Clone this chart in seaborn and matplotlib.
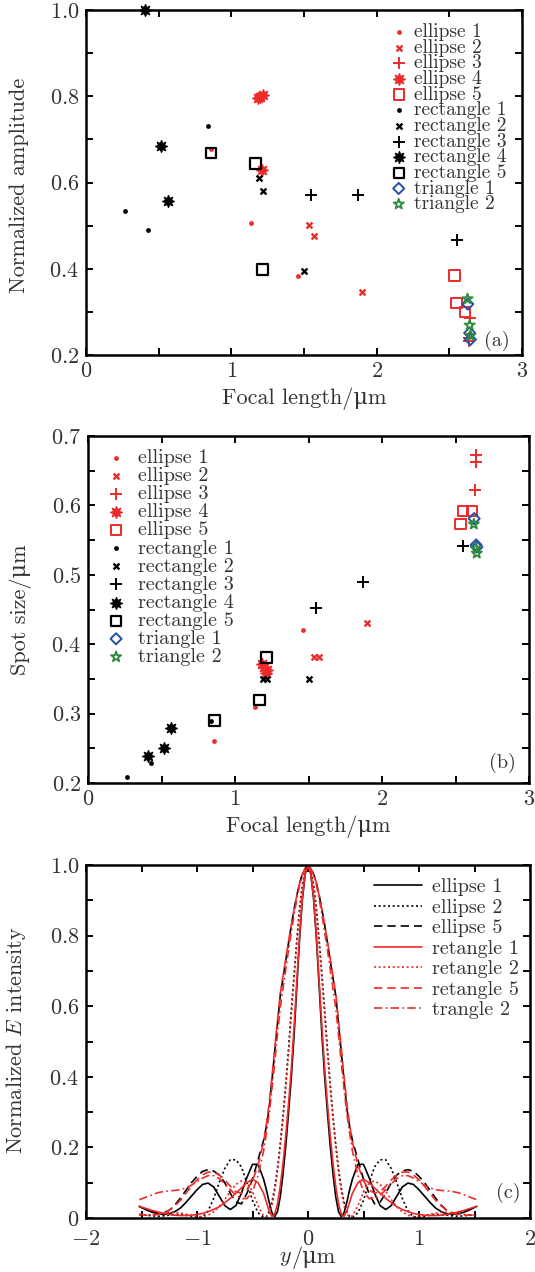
import numpy as np
import pandas as pd
import matplotlib
matplotlib.use("Agg")
import matplotlib.pyplot as plt
import seaborn as sns
from matplotlib.ticker import MultipleLocator, FuncFormatter

sns.set_theme(style="ticks")
plt.rcParams["font.family"] = ["cmr10", "DejaVu Serif"]
plt.rcParams["mathtext.fontset"] = "cm"
plt.rcParams["axes.formatter.use_mathtext"] = True
plt.rcParams["axes.unicode_minus"] = True

# ---------------- data: panels (a) and (b) ----------------
series_names = ["ellipse 1", "ellipse 2", "ellipse 3", "ellipse 4", "ellipse 5",
                "rectangle 1", "rectangle 2", "rectangle 3", "rectangle 4", "rectangle 5",
                "triangle 1", "triangle 2"]

ellipse1_focal = [0.86, 1.135, 1.46]
ellipse1_amp = [0.677, 0.507, 0.383]
ellipse1_spot = [0.26, 0.31, 0.42]

ellipse2_focal = [1.537, 1.57, 1.897]
ellipse2_amp = [0.501, 0.475, 0.346]
ellipse2_spot = [0.381, 0.381, 0.431]

ellipse3_focal = [2.64, 2.637, 2.635]
ellipse3_amp = [0.286, 0.24, 0.232]
ellipse3_spot = [0.673, 0.663, 0.622]

ellipse4_focal = [1.185, 1.2, 1.215, 1.21]
ellipse4_amp = [0.795, 0.798, 0.802, 0.63]
ellipse4_spot = [0.371, 0.367, 0.363, 0.358]

ellipse5_focal = [2.535, 2.55, 2.61]
ellipse5_amp = [0.384, 0.321, 0.300]
ellipse5_spot = [0.573, 0.592, 0.592]

rect1_focal = [0.268, 0.428, 0.838]
rect1_amp = [0.533, 0.49, 0.732]
rect1_spot = [0.208, 0.229, 0.289]

rect2_focal = [1.19, 1.215, 1.503]
rect2_amp = [0.611, 0.581, 0.395]
rect2_spot = [0.35, 0.35, 0.35]

rect3_focal = [1.55, 1.87, 2.55]
rect3_amp = [0.57, 0.57, 0.466]
rect3_spot = [0.452, 0.49, 0.541]

rect4_focal = [0.407, 0.518, 0.566]
rect4_amp = [1.0, 0.684, 0.558]
rect4_spot = [0.239, 0.25, 0.279]

rect5_focal = [0.861, 1.167, 1.215]
rect5_amp = [0.669, 0.644, 0.398]
rect5_spot = [0.29, 0.32, 0.381]

tri1_focal = [2.627, 2.64, 2.645]
tri1_amp = [0.318, 0.251, 0.236]
tri1_spot = [0.581, 0.543, 0.54]

tri2_focal = [2.625, 2.64, 2.645]
tri2_amp = [0.33, 0.269, 0.245]
tri2_spot = [0.573, 0.538, 0.531]

focal = [ellipse1_focal, ellipse2_focal, ellipse3_focal, ellipse4_focal, ellipse5_focal,
         rect1_focal, rect2_focal, rect3_focal, rect4_focal, rect5_focal, tri1_focal, tri2_focal]
amps = [ellipse1_amp, ellipse2_amp, ellipse3_amp, ellipse4_amp, ellipse5_amp,
        rect1_amp, rect2_amp, rect3_amp, rect4_amp, rect5_amp, tri1_amp, tri2_amp]
spots = [ellipse1_spot, ellipse2_spot, ellipse3_spot, ellipse4_spot, ellipse5_spot,
         rect1_spot, rect2_spot, rect3_spot, rect4_spot, rect5_spot, tri1_spot, tri2_spot]

# ---------------- data: panel (c) (half profiles, x >= 0) ----------------
y_half = [0, .025, .05, .075, .1, .125, .15, .175, .2, .225, .25, .275, .3, .325, .35, .375, .4,
          .45, .5, .55, .6, .65, .7, .75, .8, .85, .9, .95, 1.0, 1.05, 1.1, 1.15, 1.2, 1.25,
          1.3, 1.35, 1.4, 1.45, 1.52]
ellipse1_I = [1.0, .975, .905, .795, .66, .52, .40, .30, .205, .125, .06, .018, .004, .015, .045,
              .08, .11, .152, .152, .115, .07, .035, .024, .035, .062, .088, .099, .095, .08,
              .062, .044, .028, .018, .012, .01, .012, .016, .022, .033]
ellipse2_I = [1.0, .985, .945, .88, .79, .69, .59, .48, .38, .29, .21, .14, .085, .045, .018,
              .004, .002, .015, .05, .10, .145, .165, .165, .14, .10, .055, .02, .003, .002,
              .005, .008, .01, .01, .008, .006, .005, .006, .008, .01]
ellipse5_I = [1.0, .99, .975, .95, .915, .875, .83, .78, .73, .68, .63, .55, .47, .39, .31, .26,
              .22, .165, .11, .07, .04, .045, .07, .10, .122, .133, .137, .132, .118, .10, .078,
              .056, .036, .022, .015, .014, .018, .024, .032]
retangle1_I = [1.0, .975, .91, .805, .675, .545, .425, .325, .235, .155, .09, .04, .01, .005,
               .02, .045, .07, .10, .11, .10, .085, .07, .056, .043, .032, .024, .018, .013,
               .01, .008, .007, .007, .008, .01, .013, .017, .021, .026, .033]
retangle2_I = [1.0, .985, .94, .87, .78, .68, .575, .47, .37, .28, .20, .13, .075, .035, .012,
               .003, .006, .035, .075, .10, .105, .095, .075, .052, .032, .017, .008, .004,
               .004, .007, .011, .014, .016, .016, .014, .012, .01, .009, .008]
retangle5_I = [1.0, .99, .975, .95, .915, .875, .83, .785, .735, .685, .635, .56, .48, .40, .325,
               .265, .215, .15, .105, .08, .07, .075, .09, .108, .122, .13, .13, .122, .108,
               .09, .07, .05, .034, .022, .014, .01, .008, .008, .01]
trangle2_I = [1.0, .99, .972, .945, .905, .86, .81, .76, .705, .65, .595, .52, .44, .365, .295,
              .24, .19, .12, .075, .055, .055, .065, .08, .097, .112, .12, .12, .113, .103, .093,
              .085, .08, .078, .077, .075, .072, .066, .06, .052]
curve_names = ["ellipse 1", "ellipse 2", "ellipse 5", "retangle 1", "retangle 2",
               "retangle 5", "trangle 2"]
curve_vals = [ellipse1_I, ellipse2_I, ellipse5_I, retangle1_I, retangle2_I, retangle5_I,
              trangle2_I]

# ---------------- styles ----------------
RED = "#ee2b2b"
BLUE = "#2450a8"
GREEN = "#2e8b3e"
TXT = "#333333"
marker_styles = [
    dict(marker="o", s=12, color=RED, edgecolor=RED, linewidth=0),
    dict(marker="x", s=18, color=RED, linewidth=1.7),
    dict(marker="+", s=75, color=RED, linewidth=1.4),
    dict(marker=(8, 1, 0), s=70, color=RED, edgecolor=RED, linewidth=1.0),
    dict(marker="s", s=55, facecolor="none", edgecolor=RED, linewidth=1.4),
    dict(marker="o", s=12, color="black", edgecolor="black", linewidth=0),
    dict(marker="x", s=18, color="black", linewidth=1.7),
    dict(marker="+", s=75, color="black", linewidth=1.4),
    dict(marker=(8, 1, 0), s=70, color="black", edgecolor="black", linewidth=1.0),
    dict(marker="s", s=55, facecolor="none", edgecolor="black", linewidth=1.6),
    dict(marker="D", s=32, facecolor="none", edgecolor=BLUE, linewidth=1.4),
    dict(marker="*", s=60, facecolor="none", edgecolor=GREEN, linewidth=1.3),
]
line_styles = [
    dict(color="black", linestyle="-"),
    dict(color="black", linestyle=(0, (1.2, 1.6))),
    dict(color="black", linestyle=(0, (5, 3))),
    dict(color=RED, linestyle="-"),
    dict(color=RED, linestyle=(0, (1.2, 1.6))),
    dict(color=RED, linestyle=(0, (5, 3))),
    dict(color=RED, linestyle=(0, (5, 2, 1, 2))),
]

W, H = 535, 1272
fig = plt.figure(figsize=(W / 100, H / 100), dpi=100)

TICK_FS = 16
LABEL_FS = 16
LEG_FS = 14.5


def add_ax(l, r, t, b):
    return fig.add_axes([l / W, 1 - b / H, (r - l) / W, (b - t) / H])


def px2ax(ax, x, y):
    bb = ax.get_position()
    return ((x / W - bb.x0) / bb.width, ((1 - y / H) - bb.y0) / bb.height)


def style_axes(ax):
    for sp in ax.spines.values():
        sp.set_linewidth(1.8)
        sp.set_color("black")
    ax.tick_params(which="both", direction="in", top=True, right=True, length=5,
                   width=1.4, color="black", labelsize=TICK_FS, labelcolor=TXT, pad=5)
    ax.set_facecolor("white")


def fmt_int(v, pos):
    return r"$%d$" % round(v)


def fmt_dec(v, pos):
    return r"$%.1f$" % v


def fmt_dec0(v, pos):
    if abs(v) < 1e-9:
        return r"$0$"
    return r"$%.1f$" % v


axa = add_ax(86, 522, 10, 355)
axb = add_ax(88, 529, 436, 783)
axc = add_ax(86, 530, 865, 1218)

# ---- panel (a)
for name, fx, fy, st in zip(series_names, focal, amps, marker_styles):
    sns.scatterplot(x=fx, y=fy, ax=axa, label=name, clip_on=False, zorder=3, **st)
axa.set_xlim(0, 3)
axa.set_ylim(0.2, 1.0)
axa.xaxis.set_major_locator(MultipleLocator(1))
axa.xaxis.set_minor_locator(MultipleLocator(0.5))
axa.yaxis.set_major_locator(MultipleLocator(0.2))
axa.yaxis.set_minor_locator(MultipleLocator(0.1))
style_axes(axa)
axa.xaxis.set_major_formatter(FuncFormatter(fmt_int))
axa.yaxis.set_major_formatter(FuncFormatter(fmt_dec))
axa.set_xlabel("Focal length/μm", fontsize=LABEL_FS, color=TXT)
axa.set_ylabel("Normalized amplitude", fontsize=LABEL_FS, color=TXT)
axa.xaxis.set_label_coords(*px2ax(axa, 304, 387))
axa.yaxis.set_label_coords(*px2ax(axa, 29, 185))
axa.legend(loc="upper left", bbox_to_anchor=px2ax(axa, 389, 23), frameon=False,
           fontsize=14, labelspacing=-0.12, handletextpad=0.3, borderpad=0,
           borderaxespad=0, handlelength=1.0, labelcolor=TXT)
axa.text(*px2ax(axa, 497, 341), "(a)", transform=axa.transAxes, fontsize=LEG_FS,
         color=TXT, ha="center", va="center")

# ---- panel (b)
for name, fx, fy, st in zip(series_names, focal, spots, marker_styles):
    sns.scatterplot(x=fx, y=fy, ax=axb, label=name, clip_on=False, zorder=3, **st)
axb.set_xlim(0, 3)
axb.set_ylim(0.2, 0.7)
axb.xaxis.set_major_locator(MultipleLocator(1))
axb.xaxis.set_minor_locator(MultipleLocator(0.5))
axb.yaxis.set_major_locator(MultipleLocator(0.1))
axb.yaxis.set_minor_locator(MultipleLocator(0.05))
style_axes(axb)
axb.xaxis.set_major_formatter(FuncFormatter(fmt_int))
axb.yaxis.set_major_formatter(FuncFormatter(fmt_dec))
axb.set_xlabel("Focal length/μm", fontsize=LABEL_FS, color=TXT)
axb.set_ylabel("Spot size/μm", fontsize=LABEL_FS, color=TXT)
axb.xaxis.set_label_coords(*px2ax(axb, 308, 815))
axb.yaxis.set_label_coords(*px2ax(axb, 32, 610))
axb.legend(loc="upper left", bbox_to_anchor=px2ax(axb, 106, 449), frameon=False,
           fontsize=LEG_FS, labelspacing=0.0, handletextpad=0.6, borderpad=0,
           borderaxespad=0, handlelength=1.0, labelcolor=TXT)
axb.text(*px2ax(axb, 502, 763), "(b)", transform=axb.transAxes, fontsize=LEG_FS,
         color=TXT, ha="center", va="center")

# ---- panel (c)
yh = np.array(y_half)
x_full = np.concatenate([-yh[:0:-1], yh])
for name, vals, st in zip(curve_names, curve_vals, line_styles):
    v = np.array(vals)
    v_full = np.concatenate([v[:0:-1], v])
    sns.lineplot(x=x_full, y=v_full, ax=axc, label=name, lw=1.2, sort=False, **st)
axc.set_xlim(-2, 2)
axc.set_ylim(0, 1)
axc.xaxis.set_major_locator(MultipleLocator(1))
axc.xaxis.set_minor_locator(MultipleLocator(0.5))
axc.yaxis.set_major_locator(MultipleLocator(0.2))
axc.yaxis.set_minor_locator(MultipleLocator(0.1))
style_axes(axc)
axc.tick_params(axis="x", pad=8)
axc.xaxis.set_major_formatter(FuncFormatter(fmt_int))
axc.yaxis.set_major_formatter(FuncFormatter(fmt_dec0))
axc.set_xlabel("")
# x label "y/μm": italic y (math italic) followed by upright "/μm"
fig.text(292 / W, 1 - 1258 / H, r"$y$", fontsize=LABEL_FS, color=TXT,
         ha="right", va="center")
fig.text(292 / W, 1 - 1258 / H, "/μm", fontsize=LABEL_FS, color=TXT,
         ha="left", va="center")
axc.set_ylabel(r"Normalized $E$ intensity", fontsize=LABEL_FS, color=TXT)
axc.yaxis.set_label_coords(*px2ax(axc, 28, 1040))
axc.legend(loc="upper left", bbox_to_anchor=px2ax(axc, 374, 878), frameon=False,
           fontsize=LEG_FS, labelspacing=0.12, handletextpad=0.5, borderpad=0,
           borderaxespad=0, handlelength=2.4, labelcolor=TXT)
axc.text(*px2ax(axc, 508, 1193), "(c)", transform=axc.transAxes, fontsize=LEG_FS,
         color=TXT, ha="center", va="center")

fig.savefig("out.png", dpi=100, facecolor="white")
